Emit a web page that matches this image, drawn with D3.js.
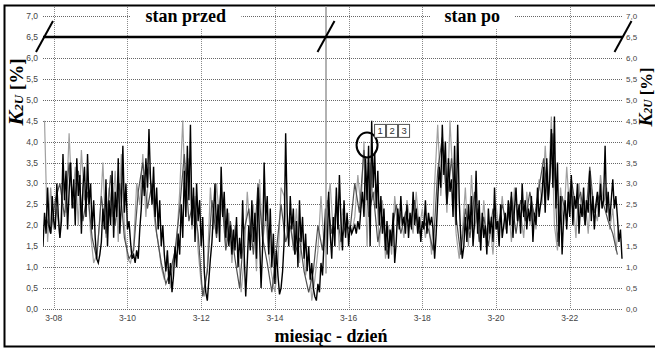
<!DOCTYPE html>
<html><head><meta charset="utf-8">
<script src="https://cdn.jsdelivr.net/npm/d3@7"></script>
<style>html,body{margin:0;padding:0;background:#fff;}svg{display:block;}</style>
</head><body>
<svg id="c" width="655" height="349"></svg>
<script>
// ---- data ----
const tickLabels = ["3-08","3-10","3-12","3-14","3-16","3-18","3-20","3-22"];
const yTicks = [0,0.5,1,1.5,2,2.5,3,3.5,4,4.5,5,5.5,6,6.5,7];
const periodLabels = ["stan przed","stan po"];
const legendLabels = ["1","2","3"];
// series 1 (black), hourly from 3-07 17:00
const s1Start = [3,7,17], s1Step = 1;
const series1 = [
1.5,2.3,1.8,2.9,
2.0,1.8,2.7,2.1,1.9,3.0,2.2,1.7,
2.1,3.7,2.6,3.3,1.9,2.8,3.5,2.4,3.1,2.0,3.6,2.7,3.2,1.8,2.9,3.4,2.2,3.7,2.5,3.0,1.9,2.6,1.7,
1.2,1.1,1.3,
1.6,2.4,1.9,3.1,1.5,2.6,2.0,3.3,1.7,2.8,2.2,3.6,1.8,2.5,3.9,2.3,3.0,1.9,2.1,1.6,
1.2,1.3,1.1,1.4,1.2,1.9,
2.4,3.2,2.7,3.6,2.9,4.3,3.1,2.5,3.4,2.2,2.9,1.9,2.6,1.5,2.0,
1.3,0.9,1.4,0.6,1.1,0.4,0.8,1.5,1.0,1.8,1.3,
2.5,1.7,3.3,2.2,3.9,2.6,4.4,2.0,2.9,1.6,3.0,2.1,2.6,1.5,2.2,
0.9,0.4,0.2,0.7,1.2,1.6,
2.3,3.0,1.8,2.5,1.6,3.4,2.2,2.8,1.7,2.4,1.5,2.0,1.3,1.9,1.4,2.2,1.0,1.7,1.2,2.6,
1.3,0.3,
1.1,2.0,1.4,2.6,1.6,2.3,1.2,2.9,1.7,0.5,1.5,3.5,2.1,2.7,1.3,2.4,1.0,1.8,0.6,1.4,
0.8,0.35,0.5,0.9,1.6,4.2,
2.3,1.5,2.7,1.9,2.4,1.3,2.1,1.0,2.6,1.6,2.2,1.2,1.8,0.9,1.5,0.7,1.1,0.5,
0.3,0.2,0.6,0.4,1.1,0.8,
1.6,2.4,1.3,2.8,1.8,1.2,2.2,
1.5,2.9,1.9,3.2,2.1,1.4,2.6,1.7,2.3,1.5,2.0,1.8,1.9,
2.0,1.8,2.1,1.9,2.4,
2.8,2.2,3.6,2.6,3.9,1.5,4.5,2.9,3.7,2.4,3.3,2.0,2.7,
1.8,2.4,1.4,2.1,1.2,1.9,1.5,2.3,1.1,1.6,
2.4,1.9,2.7,2.0,2.2,1.8,2.5,1.7,2.3,1.9,2.8,2.0,2.4,1.8,2.2,1.6,2.1,1.9,2.6,1.8,2.3,2.0,2.2,1.9,
1.2,1.8,
2.6,3.4,2.9,4.4,3.2,4.0,2.5,3.6,2.8,3.1,2.2,3.9,2.0,4.4,2.6,1.7,
1.2,1.5,
2.2,1.6,2.5,1.9,2.7,1.5,2.1,3.3,1.8,2.6,1.4,2.3,1.7,2.0,1.3,2.4,1.8,2.2,1.6,2.9,1.9,2.1,1.5,2.5,1.7,2.0,
2.3,1.8,2.6,2.0,2.8,1.7,2.4,2.9,2.1,2.5,1.8,3.0,2.2,2.6,1.9,2.4,2.1,2.7,1.6,2.3,2.0,2.9,2.2,2.5,
2.8,3.4,2.3,3.6,2.6,3.1,4.3,2.9,4.6,2.4,3.5,1.5,2.7,1.3,2.2,
2.6,1.9,2.8,2.2,3.2,2.0,2.7,2.4,3.0,1.8,2.5,2.2,2.9,2.0,2.6,2.3,3.3,2.1,2.7,1.9,2.5,2.8,2.2,3.0,2.4,2.6,3.9,2.3,2.8,2.1,2.6,3.1,2.4,2.7,2.2,1.6,1.9,1.2
];
// series 2 (light grey), every 2 h from 3-07 18:00
const s2Start = [3,7,18], s2Step = 2;
const series2 = [
4.5,
1.6,2.9,1.9,2.4,1.7,
3.2,2.3,4.2,2.5,3.4,2.0,3.8,2.6,3.0,1.8,
1.1,1.3,
2.1,3.5,1.7,2.9,2.2,3.3,1.6,3.7,2.0,
1.2,1.1,1.5,
3.0,2.5,3.7,2.2,3.4,2.8,2.0,1.6,
1.0,0.7,1.3,0.5,1.2,1.6,
2.8,4.5,2.3,3.6,1.9,2.7,1.4,
0.6,0.3,1.0,
2.9,1.9,3.0,2.1,2.6,1.5,2.3,1.1,2.0,1.5,
0.4,1.2,
2.8,1.8,2.5,0.9,3.1,1.6,2.2,1.3,0.8,
0.4,1.1,2.9,
2.7,1.7,2.2,1.4,2.4,1.1,1.9,0.8,1.3,
0.2,0.7,1.4,
2.7,1.5,2.5,
3.0,1.8,2.7,1.4,2.4,1.9,2.1,
1.8,2.2,
3.2,2.4,4.0,1.5,3.5,2.6,3.0,
1.5,2.6,1.2,2.0,1.3,
2.7,2.0,2.3,1.7,2.6,2.1,1.8,2.8,1.9,2.4,1.7,2.2,
1.3,
3.0,4.4,2.7,3.8,2.3,4.5,3.0,1.8,
1.2,1.8,
2.9,1.5,3.2,1.9,2.4,1.4,2.6,1.6,2.1,1.3,2.5,1.8,
2.7,1.9,2.5,1.6,2.9,2.1,2.3,1.7,2.8,2.0,2.4,1.9,
3.1,2.5,3.9,2.7,4.6,2.0,1.4,
2.9,2.0,3.4,2.3,2.7,1.7,3.0,2.2,2.6,1.8,2.9,2.4,2.1,3.2,2.5,2.9,1.9,2.4,1.4,2.0
];
// series 3 (dark grey), every 3 h from 3-07 19:00
const s3Start = [3,7,19], s3Step = 3;
const series3 = [
2.2,1.8,2.6,
3.0,2.2,3.5,2.4,3.3,2.1,2.8,1.7,
1.2,
2.7,1.8,3.2,2.0,3.0,1.7,
1.2,1.4,
2.8,3.5,2.4,3.0,1.8,
1.1,0.6,0.9,1.4,
2.4,3.7,2.1,2.6,1.8,
0.3,0.9,
2.6,1.7,2.9,1.4,2.1,1.2,
0.5,
1.9,2.4,1.3,3.0,1.7,1.1,
0.4,1.4,
2.5,1.6,2.0,1.3,1.7,0.9,
0.4,0.9,
2.0,1.4,2.6,1.8,2.4,1.6,2.0,
1.9,
3.0,2.3,3.8,2.2,2.8,
1.6,2.2,1.3,1.8,
2.5,1.8,2.3,2.0,2.6,1.8,2.1,1.9,
1.4,
3.3,4.1,2.5,3.6,2.2,
1.3,
2.4,1.7,2.8,1.6,2.2,1.5,2.4,1.9,
2.5,2.0,2.7,1.8,2.6,2.1,2.8,2.2,
2.9,3.6,2.6,4.2,1.6,
2.7,2.1,3.1,2.4,2.8,2.0,3.4,2.3,2.7,2.5,2.1,1.8,1.3
];
// period divider (3-15 09:20), its lower end value, marked point (circle) and level of the period bar
const divider = {month:3, day:15, hour:9.33, low:0.85};
const marked = {month:3, day:16, hour:12, value:3.92};
const periodBarLevel = 6.5;

// ---- layout ----
const YEAR = 2010;
const dt = (m,d,h)=> new Date(YEAR, m-1, d, 0, Math.round(h*60));
const svg = d3.select("#c");
const L = 43, R = 622, T = 16, B = 309;
const x = d3.scaleTime().domain([dt(3,7,17), dt(3,23,10)]).range([L, R]);
const y = d3.scaleLinear().domain([0,7]).range([B, T]);

// frame
svg.append("rect").attr("x",4.5).attr("y",5.5).attr("width",670).attr("height",341)
  .attr("fill","none").attr("stroke","#000").attr("stroke-width",2);

// grid
const tickDates = tickLabels.map(s=>{const [m,d]=s.split("-").map(Number);return dt(m,d,0);});
svg.append("g").selectAll("line").data(tickDates).join("line")
  .attr("x1",d=>Math.round(x(d))+0.5).attr("x2",d=>Math.round(x(d))+0.5)
  .attr("y1",7).attr("y2",B).attr("stroke","#8a8a8a").attr("stroke-dasharray","1,1");
svg.append("g").selectAll("line").data(yTicks).join("line")
  .attr("x1",L).attr("x2",R).attr("y1",d=>Math.round(y(d))+0.5).attr("y2",d=>Math.round(y(d))+0.5)
  .attr("stroke","#666").attr("stroke-dasharray","1,1");

// axes labels
const fmt = d3.format(".1f");
const tickFont = "Liberation Sans, Arial, sans-serif";
svg.append("g").selectAll("text").data(yTicks).join("text")
  .attr("x",38).attr("y",d=>y(d)+3).attr("text-anchor","end")
  .attr("font-family",tickFont).attr("font-size",8.5).attr("fill","#444")
  .text(d=>fmt(d).replace(".",","));
svg.append("g").selectAll("text").data(yTicks).join("text")
  .attr("x",626).attr("y",d=>y(d)+3).attr("text-anchor","start")
  .attr("font-family",tickFont).attr("font-size",8).attr("fill","#444")
  .text(d=>fmt(d).replace(".",","));
svg.append("g").selectAll("text").data(tickDates).join("text")
  .attr("x",d=>x(d)).attr("y",321).attr("text-anchor","middle")
  .attr("font-family",tickFont).attr("font-size",8.5).attr("fill","#444")
  .text((d,i)=>tickLabels[i]);

// series
svg.append("defs").append("clipPath").attr("id","clip").append("rect")
  .attr("x",L).attr("y",5).attr("width",R-L+1).attr("height",B-5+1);
function toPts(start, step, vals){
  return vals.map((v,i)=>({t: dt(start[0], start[1], start[2] + i*step), v}));
}
const line = d3.line().x(d=>x(d.t)).y(d=>y(d.v));
const g = svg.append("g").attr("clip-path","url(#clip)");
[[s2Start,s2Step,series2,"#a0a0a0",1.2],[s3Start,s3Step,series3,"#505050",1.2],[s1Start,s1Step,series1,"#000",1.4]]
 .forEach(([st,sp,vals,col,w])=>{
  g.append("path").datum(toPts(st,sp,vals)).attr("d",line)
   .attr("fill","none").attr("stroke",col).attr("stroke-width",w).attr("stroke-linejoin","miter");
 });

// divider
const xd = Math.round(x(dt(divider.month,divider.day,divider.hour)));
svg.append("line").attr("x1",xd).attr("x2",xd).attr("y1",6).attr("y2",y(divider.low))
  .attr("stroke","#999").attr("stroke-width",1.5);

// period label backgrounds + labels
const serif = "Liberation Serif, Times New Roman, serif";
const perX = [x(dt(3,11,14)), x(dt(3,19,8.5))];
const perW = [111, 84];
perX.forEach((cx,i)=>{
  svg.append("rect").attr("x",cx-perW[i]/2).attr("y",7).attr("width",perW[i]).attr("height",21).attr("fill","#fff");
  svg.append("text").attr("x",cx).attr("y",22).attr("text-anchor","middle")
    .attr("font-family",serif).attr("font-weight","bold").attr("font-size",18).attr("fill","#000")
    .text(periodLabels[i]);
});

// period bar with break marks
const yb = y(periodBarLevel);
svg.append("line").attr("x1",L).attr("x2",R+1).attr("y1",yb).attr("y2",yb)
  .attr("stroke","#000").attr("stroke-width",2.5);
[L+1.5, xd, R+1].forEach(cx=>{
  svg.append("line").attr("x1",cx-8.5).attr("y1",y(periodBarLevel-0.36))
    .attr("x2",cx+8.5).attr("y2",y(periodBarLevel+0.38))
    .attr("stroke","#000").attr("stroke-width",2);
});

// marked point circle
const mx = x(dt(marked.month,marked.day,marked.hour)), my = y(marked.value);
svg.append("ellipse").attr("cx",mx).attr("cy",my).attr("rx",10.5).attr("ry",12.5)
  .attr("fill","none").attr("stroke","#000").attr("stroke-width",2);
// legend boxes
legendLabels.forEach((lab,i)=>{
  const bx = mx + 7.5 + i*12;
  svg.append("rect").attr("x",bx).attr("y",my-20.5).attr("width",11).attr("height",13)
    .attr("fill","#fff").attr("stroke","#555").attr("stroke-width",1);
  svg.append("text").attr("x",bx+5.5).attr("y",my-10.5).attr("text-anchor","middle")
    .attr("font-family",tickFont).attr("font-size",9.5).attr("fill","#333").text(lab);
});

// axis titles
svg.append("text").attr("x",331).attr("y",342).attr("text-anchor","middle")
  .attr("font-family",serif).attr("font-weight","bold").attr("font-size",18).attr("fill","#000")
  .text("miesiąc - dzień");
function yTitle(xb, cy, k){
  const t = svg.append("text").attr("transform",`translate(${xb},${cy}) rotate(-90)`)
    .attr("text-anchor","middle").attr("font-family",serif).attr("font-weight","bold").attr("fill","#000");
  t.append("tspan").attr("font-style","italic").attr("font-size",22*k).text("K");
  t.append("tspan").attr("font-style","italic").attr("font-size",13*k).text("2U");
  t.append("tspan").attr("font-size",19*k).text(" [%]");
}
yTitle(23, 92, 1);
yTitle(652, 97, 0.88);
</script>
</body></html>
